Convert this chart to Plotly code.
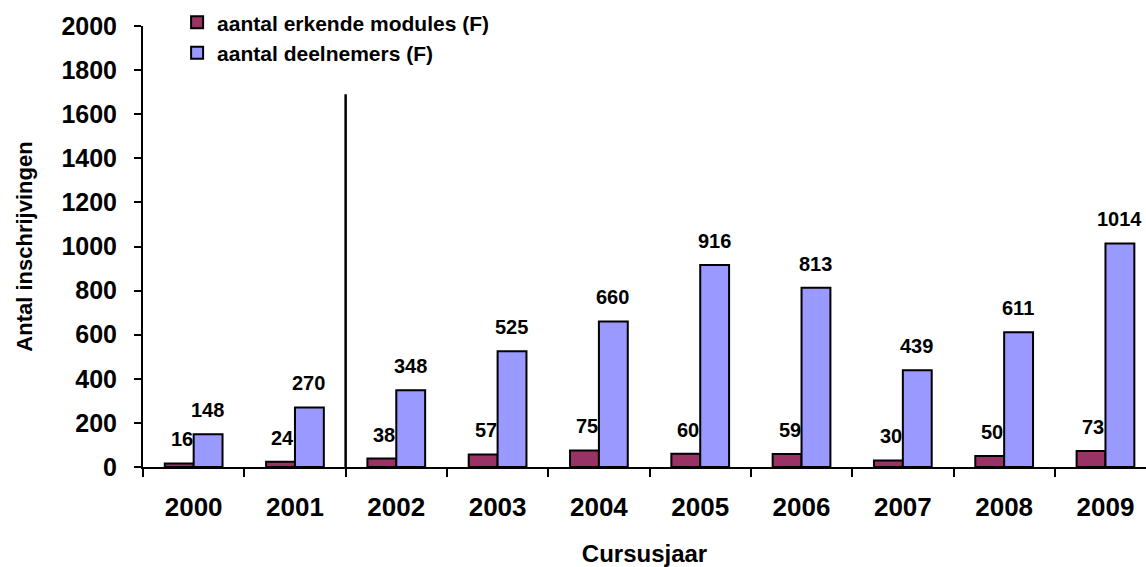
import plotly.graph_objects as go

years = ["2000", "2001", "2002", "2003", "2004", "2005", "2006", "2007", "2008", "2009"]
modules = [16, 24, 38, 57, 75, 60, 59, 30, 50, 73]
participants = [148, 270, 348, 525, 660, 916, 813, 439, 611, 1014]
series_names = ["aantal erkende modules (F)", "aantal deelnemers (F)"]
y_ticks = list(range(0, 2001, 200))
separator_after_index = 1
separator_top = 1690

FONT = "Liberation Sans, Arial, sans-serif"
C_MOD = "#993366"
C_PAR = "#9999FF"

fig = go.Figure()
fig.add_trace(go.Bar(x=years, y=modules, name=series_names[0],
                     marker=dict(color=C_MOD, line=dict(color="black", width=2)), legendgroup="a"))
fig.add_trace(go.Bar(x=years, y=participants, name=series_names[1],
                     marker=dict(color=C_PAR, line=dict(color="black", width=2)), legendgroup="b"))

for i, yv in enumerate(years):
    fig.add_annotation(x=i, y=modules[i], text=str(modules[i]), showarrow=False,
                       xref="x", yref="y", xshift=-12, yshift=11, yanchor="bottom",
                       font=dict(family=FONT, size=20, color="black", weight="bold"))
    fig.add_annotation(x=i, y=participants[i], text=str(participants[i]), showarrow=False,
                       xref="x", yref="y", xshift=14, yshift=11, yanchor="bottom",
                       font=dict(family=FONT, size=20, color="black", weight="bold"))

fig.add_shape(type="line", xref="x", yref="y", x0=separator_after_index + 0.5, x1=separator_after_index + 0.5,
              y0=-36, y1=separator_top, line=dict(color="black", width=2.5))

fig.update_layout(
    width=1146, height=567,
    margin=dict(l=143, r=0, t=26, b=100, autoexpand=False),
    paper_bgcolor="white", plot_bgcolor="white",
    barmode="group", bargap=0.43, bargroupgap=0,
    font=dict(family=FONT, color="black"),
    showlegend=True,
    legend=dict(x=0.034, y=1.054, xanchor="left", yanchor="top", bgcolor="rgba(0,0,0,0)",
                font=dict(family=FONT, size=21, color="black", weight="bold"), tracegroupgap=3,
                itemwidth=30, traceorder="normal"),
    xaxis=dict(range=[-0.5, 9.4], showline=True, linecolor="black", linewidth=2, ticks="outside",
               tickson="boundaries", ticklen=8, tickwidth=2, tickcolor="black", showgrid=False,
               ticklabelstandoff=16, automargin=False,
               tickfont=dict(family=FONT, size=26, color="black", weight="bold"),
               title=dict(text="Cursusjaar", font=dict(family=FONT, size=24, color="black", weight="bold"),
                          standoff=24)),
    yaxis=dict(range=[0, 2000], tickvals=y_ticks, showline=True, linecolor="black", linewidth=2, ticks="outside",
               ticklen=7, tickwidth=2, tickcolor="black", showgrid=False, zeroline=False,
               ticklabelstandoff=12, automargin=False,
               tickfont=dict(family=FONT, size=25, color="black", weight="bold"),
               title=dict(text="Antal inschrijvingen", font=dict(family=FONT, size=22, color="black", weight="bold"),
                          standoff=23)),
)

fig.write_html("out.html", config={"displayModeBar": False},
               post_script="document.body.style.margin='0';")
